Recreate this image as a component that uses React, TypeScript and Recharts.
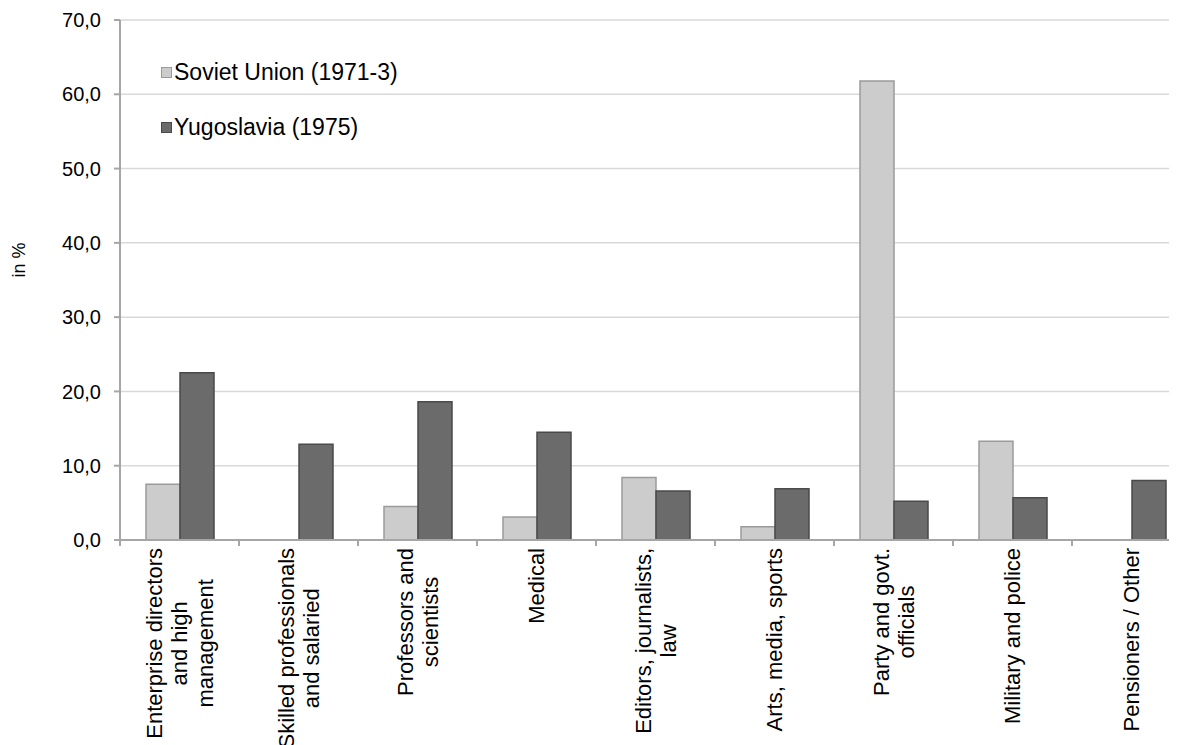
import React from 'react';
import { BarChart, Bar, XAxis, YAxis, CartesianGrid, Legend } from 'recharts';

const categories = [
  'Enterprise directors and high management',
  'Skilled professionals and salaried',
  'Professors and scientists',
  'Medical',
  'Editors, journalists, law',
  'Arts, media, sports',
  'Party and govt. officials',
  'Military and police',
  'Pensioners / Other',
];
const categoryLines: string[][] = [
  ['Enterprise directors', 'and high', 'management'],
  ['Skilled professionals', 'and salaried'],
  ['Professors and', 'scientists'],
  ['Medical'],
  ['Editors, journalists,', 'law'],
  ['Arts, media, sports'],
  ['Party and govt.', 'officials'],
  ['Military and police'],
  ['Pensioners / Other'],
];
const sovietUnion: (number | null)[] = [7.5, null, 4.5, 3.1, 8.4, 1.8, 61.8, 13.3, null];
const yugoslavia: number[] = [22.5, 12.9, 18.6, 14.5, 6.6, 6.9, 5.2, 5.7, 8.0];
const yTicks = [0, 10, 20, 30, 40, 50, 60, 70];
const seriesNames = ['Soviet Union (1971-3)', 'Yugoslavia (1975)'];

const data = categories.map((c, i) => ({
  name: c,
  su: sovietUnion[i],
  yu: yugoslavia[i],
}));

const FONT = '"Liberation Sans", Arial, Helvetica, sans-serif';
const CHART_W = 1190;
const CHART_H = 737;
const MARGIN = { top: 12, right: 7, left: 0, bottom: 5 };
const YAXIS_W = 112;
const PLOT_W = CHART_W - MARGIN.left - MARGIN.right - YAXIS_W;
const BAND = PLOT_W / categories.length;
const X_FS = 22;
const X_LH = 25.5;

let ctx: CanvasRenderingContext2D | null = null;
function measure(s: string, font: string): number {
  if (!ctx) ctx = document.createElement('canvas').getContext('2d');
  if (!ctx) return s.length * 10;
  ctx.font = font;
  return ctx.measureText(s).width;
}

function XTick(props: any) {
  const { x, y, index } = props;
  const axisY = y - 8;
  const lines = categoryLines[index] || [];
  const font = `${X_FS}px "Liberation Sans"`;
  const maxW = Math.max(...lines.map((l) => measure(l, font)));
  const n = lines.length;
  const isLast = index === categories.length - 1;
  return (
    <g>
      <line x1={x - BAND / 2} x2={x - BAND / 2} y1={axisY} y2={axisY + 6} stroke="#a6a6a6" strokeWidth={2} />
      {isLast && (
        <line x1={x + BAND / 2} x2={x + BAND / 2} y1={axisY} y2={axisY + 6} stroke="#a6a6a6" strokeWidth={2} />
      )}
      <g transform={`translate(${x},${y}) rotate(-90)`}>
        {lines.map((l, i) => (
          <text
            key={i}
            x={-maxW / 2}
            y={(i - (n - 1) / 2) * X_LH + 0.36 * X_FS}
            textAnchor="middle"
            fontSize={X_FS}
            fontFamily={FONT}
            fill="#000"
          >
            {l}
          </text>
        ))}
      </g>
    </g>
  );
}

function LegendContent() {
  const colors = [
    { fill: '#cccccc', stroke: '#9a9a9a' },
    { fill: '#6b6b6b', stroke: '#4a4a4a' },
  ];
  return (
    <div style={{ fontFamily: FONT, fontSize: 23, color: '#000' }}>
      {seriesNames.map((s, i) => (
        <div
          key={s}
          style={{ display: 'flex', alignItems: 'center', height: 28, marginBottom: i === 0 ? 27 : 0, whiteSpace: 'nowrap' }}
        >
          <span
            style={{
              display: 'inline-block',
              width: 9,
              height: 9,
              background: colors[i].fill,
              border: `1px solid ${colors[i].stroke}`,
              marginRight: 2,
            }}
          />
          <span>{s}</span>
        </div>
      ))}
    </div>
  );
}

function YTitle(props: any) {
  const { viewBox } = props;
  const cx = 11;
  const cy = viewBox.y + viewBox.height / 2 - 20;
  return (
    <text
      x={cx}
      y={cy}
      transform={`rotate(-90, ${cx}, ${cy})`}
      textAnchor="middle"
      dominantBaseline="central"
      fontSize={18}
      fontFamily={FONT}
      fill="#000"
    >
      in %
    </text>
  );
}

export default function App() {
  return (
    <div style={{ width: 1177, height: CHART_H, overflow: 'hidden', background: '#fff' }}>
      <style>{'html,body{overflow:hidden;}'}</style>
      <BarChart
        width={CHART_W}
        height={CHART_H}
        data={data}
        margin={MARGIN}
        barCategoryGap={26}
        barGap={0}
      >
        <CartesianGrid vertical={false} stroke="#d9d9d9" strokeWidth={1.5} />
        <XAxis
          dataKey="name"
          interval={0}
          height={200}
          tickLine={false}
          tickSize={6}
          tickMargin={2}
          axisLine={{ stroke: '#a6a6a6', strokeWidth: 2 }}
          tick={<XTick />}
        />
        <YAxis
          width={YAXIS_W}
          domain={[0, 70]}
          ticks={yTicks}
          interval={0}
          tickFormatter={(v: number) => v.toFixed(1).replace('.', ',')}
          tick={{ fontSize: 20, fontFamily: FONT, fill: '#000' }}
          tickSize={6}
          tickMargin={13}
          tickLine={{ stroke: '#a6a6a6', strokeWidth: 2 }}
          axisLine={{ stroke: '#a6a6a6', strokeWidth: 2 }}
          label={<YTitle />}
        />
        <Legend
          layout="horizontal"
          verticalAlign="middle"
          align="center"
          content={<LegendContent />}
          wrapperStyle={{ position: 'absolute', top: 50, left: 153, width: 'auto', height: 'auto' }}
        />
        <Bar dataKey="su" name={seriesNames[0]} fill="#cccccc" stroke="#9a9a9a" strokeWidth={1.5} isAnimationActive={false} />
        <Bar dataKey="yu" name={seriesNames[1]} fill="#6b6b6b" stroke="#4a4a4a" strokeWidth={1.5} isAnimationActive={false} />
      </BarChart>
    </div>
  );
}
